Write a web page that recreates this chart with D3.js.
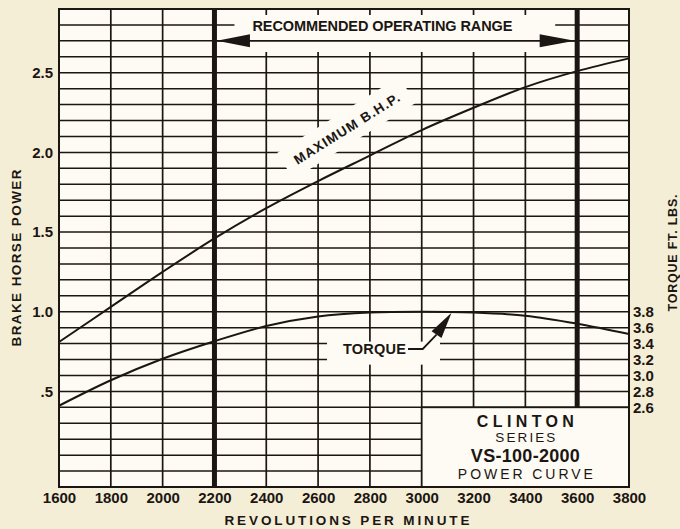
<!DOCTYPE html>
<html>
<head>
<meta charset="utf-8">
<script src="https://cdn.jsdelivr.net/npm/d3@7"></script>
<style>
  html, body { margin: 0; padding: 0; background: #f5eed6; }
  svg { display: block; }
</style>
</head>
<body>
<svg id="chart" width="680" height="529"></svg>
<script>
// ---- data ----
const rpm = [1600, 1800, 2000, 2200, 2400, 2600, 2800, 3000, 3200, 3400, 3600, 3800];
const bhp = [0.81, 1.03, 1.25, 1.46, 1.65, 1.82, 1.98, 2.14, 2.28, 2.41, 2.51, 2.59];
const torque = [2.62, 2.94, 3.21, 3.43, 3.62, 3.74, 3.79, 3.80, 3.79, 3.75, 3.65, 3.52];
const hpTicks = [0.5, 1.0, 1.5, 2.0, 2.5];
const hpTickLabels = [".5", "1.0", "1.5", "2.0", "2.5"];
const torqueTicks = [2.6, 2.8, 3.0, 3.2, 3.4, 3.6, 3.8];
const rangeRpm = [2200, 3600];
const boxLines = ["CLINTON", "SERIES", "VS-100-2000", "POWER CURVE"];

// ---- layout ----
const ink = "#1b1613";
const bg = "#fdfbf3";
const svg = d3.select("#chart");
const x = d3.scaleLinear().domain([1600, 3800]).range([59, 629]);
const y = d3.scaleLinear().domain([-0.1, 2.9]).range([487, 9]);
const yT = d3.scaleLinear().domain([2.6, 3.8]).range([y(0.4), y(1.0)]);
const font = "'Liberation Sans', Arial, sans-serif";

// plot background
svg.append("rect").attr("x", x(1600)).attr("y", y(2.9))
  .attr("width", x(3800) - x(1600)).attr("height", y(-0.1) - y(2.9))
  .attr("fill", bg);

// horizontal grid
const hLines = d3.range(0, 29).map(i => i / 10);
svg.append("g").selectAll("line").data(hLines).join("line")
  .attr("x1", x(1600)).attr("x2", x(3800))
  .attr("y1", d => y(d)).attr("y2", d => y(d))
  .attr("stroke", ink).attr("stroke-width", 1.5);

// vertical grid
svg.append("g").selectAll("line").data(rpm.slice(1, -1)).join("line")
  .attr("x1", d => x(d)).attr("x2", d => x(d))
  .attr("y1", y(2.9)).attr("y2", y(-0.1))
  .attr("stroke", ink).attr("stroke-width", 1.7);

// white mask behind "RECOMMENDED OPERATING RANGE"
svg.append("rect").attr("x", x(2200) + 20).attr("y", y(2.9) + 6)
  .attr("width", x(3600) - x(2200) - 42).attr("height", 37).attr("fill", bg);
// arrow shaft (2.7 line)
svg.append("line").attr("x1", x(2200)).attr("x2", x(3600))
  .attr("y1", y(2.7)).attr("y2", y(2.7)).attr("stroke", ink).attr("stroke-width", 1.6);

// mask behind TORQUE label
svg.append("rect").attr("x", 327).attr("y", y(0.85) + 6).attr("width", 113).attr("height", 23).attr("fill", bg);

// mask behind MAXIMUM B.H.P.
const mbx = x(2710), mby = y(2.15);
svg.append("rect").attr("x", -72).attr("y", -16).attr("width", 144).attr("height", 31)
  .attr("fill", bg).attr("transform", `translate(${mbx},${mby}) rotate(-32)`);

// thick range lines
svg.append("g").selectAll("line").data(rangeRpm).join("line")
  .attr("x1", d => x(d)).attr("x2", d => x(d))
  .attr("y1", y(2.9)).attr("y2", y(-0.1))
  .attr("stroke", ink).attr("stroke-width", 5);

// title box (covers lower right)
svg.append("rect").attr("x", x(3000)).attr("y", y(0.4))
  .attr("width", x(3800) - x(3000)).attr("height", y(-0.1) - y(0.4))
  .attr("fill", bg).attr("stroke", ink).attr("stroke-width", 1.7);

// frame
svg.append("rect").attr("x", x(1600)).attr("y", y(2.9))
  .attr("width", x(3800) - x(1600)).attr("height", y(-0.1) - y(2.9))
  .attr("fill", "none").attr("stroke", ink).attr("stroke-width", 2);

// arrowheads
const ay = y(2.7);
const l0 = x(2200) + 2.5, r0 = x(3600) - 2.5;
svg.append("path").attr("d", `M${l0},${ay} L${l0 + 33},${ay - 6.5} L${l0 + 33},${ay + 6.5} Z`).attr("fill", ink);
svg.append("path").attr("d", `M${r0},${ay} L${r0 - 35},${ay - 6.5} L${r0 - 35},${ay + 6.5} Z`).attr("fill", ink);

svg.append("text").attr("x", x(2200) + 38).attr("y", y(2.77) + 1)
  .attr("font-family", font).attr("font-weight", "bold").attr("font-size", 14.5)
  .attr("textLength", 260).attr("lengthAdjust", "spacing")
  .attr("fill", ink).text("RECOMMENDED OPERATING RANGE");

// curves
const line = d3.line().curve(d3.curveCatmullRom.alpha(0.5));
svg.append("path")
  .attr("d", line(rpm.map((r, i) => [x(r), y(bhp[i])])))
  .attr("fill", "none").attr("stroke", ink).attr("stroke-width", 2);
svg.append("path")
  .attr("d", line(rpm.map((r, i) => [x(r), yT(torque[i])])))
  .attr("fill", "none").attr("stroke", ink).attr("stroke-width", 2);

// MAXIMUM B.H.P. label
svg.append("text").attr("transform", `translate(${mbx},${mby}) rotate(-32)`)
  .attr("text-anchor", "middle").attr("dy", "0.36em")
  .attr("font-family", font).attr("font-weight", "bold").attr("font-size", 13.5)
  .attr("textLength", 122).attr("lengthAdjust", "spacing")
  .attr("fill", ink).text("MAXIMUM B.H.P.");

// TORQUE label + arrow
svg.append("text").attr("x", 343).attr("y", 353.5)
  .attr("font-family", font).attr("font-weight", "bold").attr("font-size", 14.5)
  .attr("textLength", 63).attr("lengthAdjust", "spacing")
  .attr("fill", ink).text("TORQUE");
const tip = [x(3115), yT(3.8) + 1];
const base = [tip[0] - 15, tip[1] + 22];
svg.append("path").attr("d", `M408,349 L${x(3000) + 1},349 L${base[0]},${base[1]}`)
  .attr("fill", "none").attr("stroke", ink).attr("stroke-width", 1.8);
{
  const dx = tip[0] - base[0], dy = tip[1] - base[1], len = Math.hypot(dx, dy);
  const px = -dy / len * 6, py = dx / len * 6;
  svg.append("path").attr("d",
    `M${tip[0]},${tip[1]} L${base[0] + px},${base[1] + py} L${base[0] - px},${base[1] - py} Z`)
    .attr("fill", ink);
}

// axes
const xAxis = svg.append("g").attr("transform", `translate(0,${y(-0.1)})`)
  .call(d3.axisBottom(x).tickValues(rpm).tickSize(0).tickPadding(5).tickFormat(d3.format("d")));
const yAxis = svg.append("g").attr("transform", `translate(${x(1600)},0)`)
  .call(d3.axisLeft(y).tickValues(hpTicks).tickSize(0).tickPadding(6)
    .tickFormat((d, i) => hpTickLabels[i]));
const tAxis = svg.append("g").attr("transform", `translate(${x(3800)},0)`)
  .call(d3.axisRight(yT).tickValues(torqueTicks).tickSize(0).tickPadding(4)
    .tickFormat(d3.format(".1f")));
[xAxis, yAxis, tAxis].forEach(g => {
  g.select(".domain").remove();
  g.selectAll("text").attr("font-family", font).attr("font-weight", "bold")
    .attr("font-size", 15).attr("fill", ink);
});

// axis titles
svg.append("text").attr("x", (x(1600) + x(3800)) / 2 + 3).attr("y", 525)
  .attr("text-anchor", "middle").attr("font-family", font).attr("font-weight", "bold")
  .attr("font-size", 13.5).attr("textLength", 245).attr("lengthAdjust", "spacing")
  .attr("fill", ink).text("REVOLUTIONS PER MINUTE");
svg.append("text").attr("transform", `translate(21,258) rotate(-90)`)
  .attr("text-anchor", "middle").attr("font-family", font).attr("font-weight", "bold")
  .attr("font-size", 13.5).attr("textLength", 177).attr("lengthAdjust", "spacing")
  .attr("fill", ink).text("BRAKE HORSE POWER");
svg.append("text").attr("transform", `translate(677,253) rotate(-90)`)
  .attr("text-anchor", "middle").attr("font-family", font).attr("font-weight", "bold")
  .attr("font-size", 12.5).attr("textLength", 117).attr("lengthAdjust", "spacing")
  .attr("fill", ink).text("TORQUE FT. LBS.");

// box text
const bcx = (x(3000) + x(3800)) / 2;
const boxStyle = [
  { y: 427, size: 16, weight: "bold", len: 97 },
  { y: 442, size: 13.5, weight: "normal", len: 60 },
  { y: 462, size: 18, weight: "bold", len: 109 },
  { y: 479, size: 14, weight: "normal", len: 135 }
];
svg.append("g").selectAll("text").data(boxLines).join("text")
  .attr("x", bcx).attr("y", (d, i) => boxStyle[i].y)
  .attr("text-anchor", "middle").attr("font-family", font)
  .attr("font-weight", (d, i) => boxStyle[i].weight)
  .attr("font-size", (d, i) => boxStyle[i].size)
  .attr("textLength", (d, i) => boxStyle[i].len).attr("lengthAdjust", "spacing")
  .attr("fill", ink).text(d => d);
</script>
</body>
</html>
